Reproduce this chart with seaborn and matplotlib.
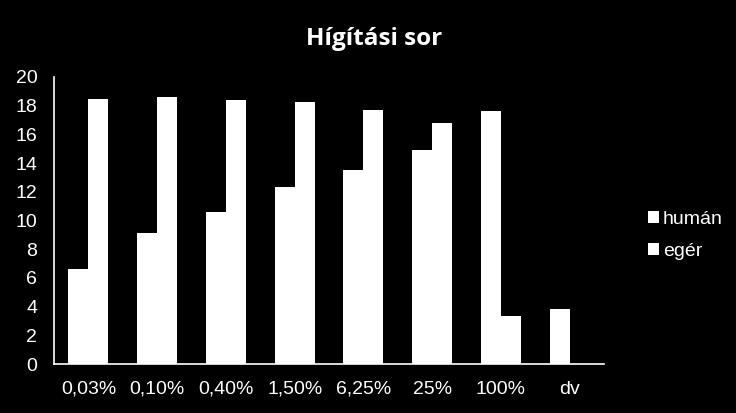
import pandas as pd
import seaborn as sns
import matplotlib.pyplot as plt

categories = ["0,03%", "0,10%", "0,40%", "1,50%", "6,25%", "25%", "100%", "dv"]
human = [6.6, 9.1, 10.6, 12.3, 13.5, 14.9, 17.6, 3.85]
eger = [18.5, 18.6, 18.4, 18.25, 17.7, 16.8, 3.35, 0]
series_names = ["humán", "egér"]

df = pd.DataFrame({
    "kat": categories * 2,
    "ertek": human + eger,
    "sorozat": [series_names[0]] * len(categories) + [series_names[1]] * len(categories),
})

sns.set_style("dark")
plt.rcParams["font.family"] = ["Liberation Sans", "DejaVu Sans"]

fig = plt.figure(figsize=(7.36, 4.13), dpi=100, facecolor="black")
ax = fig.add_axes([0.0734, 0.1186, 0.7473, 0.695])
ax.set_facecolor("black")

sns.barplot(data=df, x="kat", y="ertek", hue="sorozat", order=categories,
            hue_order=series_names, palette=["white", "white"], width=0.58,
            saturation=1, linewidth=0, ax=ax)

ax.set_ylim(0, 20)
ax.set_yticks(range(0, 21, 2))
ax.set_xlim(-0.5, len(categories) - 0.5)
ax.set_xlabel("")
ax.set_ylabel("")
ax.grid(False)
ax.tick_params(colors="white", labelsize=14, length=0)
ax.tick_params(axis="x", pad=12)
ax.tick_params(axis="y", pad=12)
for side in ["top", "right"]:
    ax.spines[side].set_visible(False)
for side in ["left", "bottom"]:
    ax.spines[side].set_visible(True)
    ax.spines[side].set_color("white")
    ax.spines[side].set_linewidth(1.2)

handles, labels = ax.get_legend_handles_labels()
ax.get_legend().remove()
fig.legend(handles, labels, loc="center left", bbox_to_anchor=(0.857, 0.43),
           frameon=False, labelcolor="white", fontsize=14,
           handlelength=0.55, handleheight=0.55, handletextpad=0.2, labelspacing=0.75)

fig.text(0.508, 0.905, "Hígítási sor", color="white", fontsize=17.5,
         fontweight="bold", family=["Open Sans", "DejaVu Sans"], ha="center", va="center")

fig.savefig("out.png", dpi=100, facecolor="black")
